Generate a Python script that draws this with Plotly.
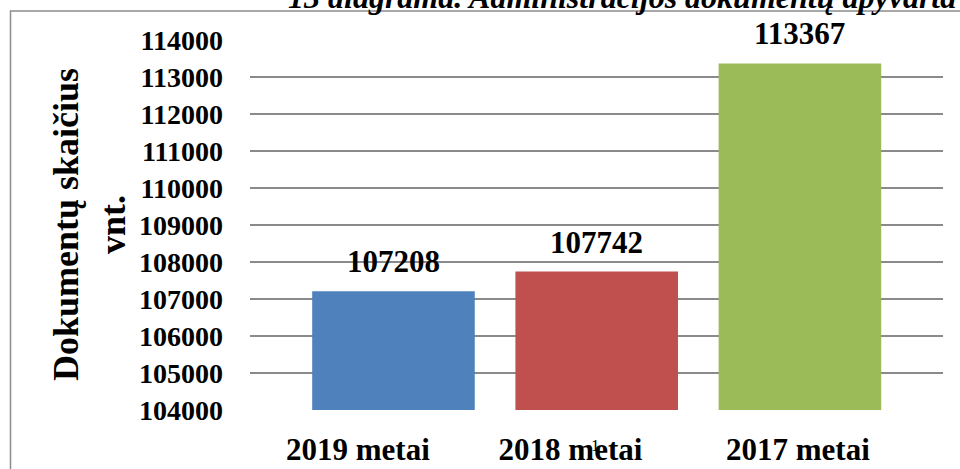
import plotly.graph_objects as go

# ---- data ----
categories = ["2019 metai", "2018 metai", "2017 metai"]
values = [107208, 107742, 113367]
y_ticks = [104000, 105000, 106000, 107000, 108000, 109000, 110000, 111000, 112000, 113000, 114000]
title_text = "13 diagrama. Administracijos dokumentų apyvarta"
y_title = "Dokumentų skaičius<br>vnt."
page_number = "1"

# ---- style ----
colors = ["#4F81BD", "#C0504D", "#9BBB59"]
FONT = "Liberation Serif"
GRID = "#8a8a8a"
# tick label positions (label placement as in the source rendering, in category units)
tick_label_pos = [-0.175, 0.871, 1.990]

W, H = 960, 469
L, R, T, B = 250, 17, 40, 59
pw, ph = W - L - R, H - T - B

def px_x(p):
    return (p - L) / pw

def px_y(p):
    return 1 - (p - T) / ph

xs = list(range(len(categories)))

fig = go.Figure()
fig.add_trace(go.Bar(
    x=xs, y=values, width=0.8,
    marker=dict(color=colors, line=dict(width=0)),
    hoverinfo="skip", showlegend=False,
))

# data labels
for xi, v in zip(xs, values):
    fig.add_annotation(
        x=xi, y=v, xref="x", yref="y", text=f"<b>{v}</b>",
        showarrow=False, yanchor="bottom", yshift=10,
        font=dict(family=FONT, size=31, color="#000000"),
    )

# y-axis title
fig.add_annotation(
    x=px_x(89), y=0.5, xref="paper", yref="paper",
    text=f"<b>{y_title}</b>", textangle=-90, showarrow=False,
    xanchor="center", yanchor="middle",
    font=dict(family=FONT, size=36, color="#000000"),
)

# chart title (cropped at the top of the page)
fig.add_annotation(
    x=px_x(286), y=px_y(17), xref="paper", yref="paper",
    text=f"<b><i>{title_text}</i></b>", showarrow=False,
    xanchor="left", yanchor="bottom",
    font=dict(family=FONT, size=32, color="#000000"),
)

# page number overlapping the axis label
fig.add_annotation(
    x=px_x(595), y=px_y(446), xref="paper", yref="paper",
    text=page_number, showarrow=False,
    xanchor="center", yanchor="middle",
    font=dict(family=FONT, size=17, color="#000000"),
)

# outer chart border
fig.add_shape(
    type="rect", xref="paper", yref="paper",
    x0=px_x(10.5), x1=px_x(1000), y0=px_y(500), y1=px_y(11),
    line=dict(color="#8c8c8c", width=1.5), fillcolor="rgba(0,0,0,0)",
)

fig.update_layout(
    width=W, height=H,
    margin=dict(l=L, r=R, t=T, b=B, pad=0),
    paper_bgcolor="white", plot_bgcolor="white",
    bargap=0.2,
)
fig.update_xaxes(
    range=[-0.706, 2.704],
    tickmode="array", tickvals=tick_label_pos, ticktext=[f"<b>{c}</b>" for c in categories],
    tickfont=dict(family=FONT, size=31, color="#000000"),
    showgrid=False, zeroline=False, showline=False, ticks="",
    ticklabelstandoff=18, automargin=False,
)
fig.update_yaxes(
    range=[103999, 114001],
    tickmode="array", tickvals=y_ticks, ticktext=[f"<b>{t}</b>" for t in y_ticks],
    tickfont=dict(family=FONT, size=28, color="#000000"),
    showgrid=True, gridcolor=GRID, gridwidth=1.5,
    zeroline=False, showline=False, ticks="",
    ticklabelstandoff=26, automargin=False,
)

fig.write_html(
    "out.html",
    config={"displayModeBar": False},
    post_script="document.body.style.margin='0';document.body.style.overflow='hidden';",
)
